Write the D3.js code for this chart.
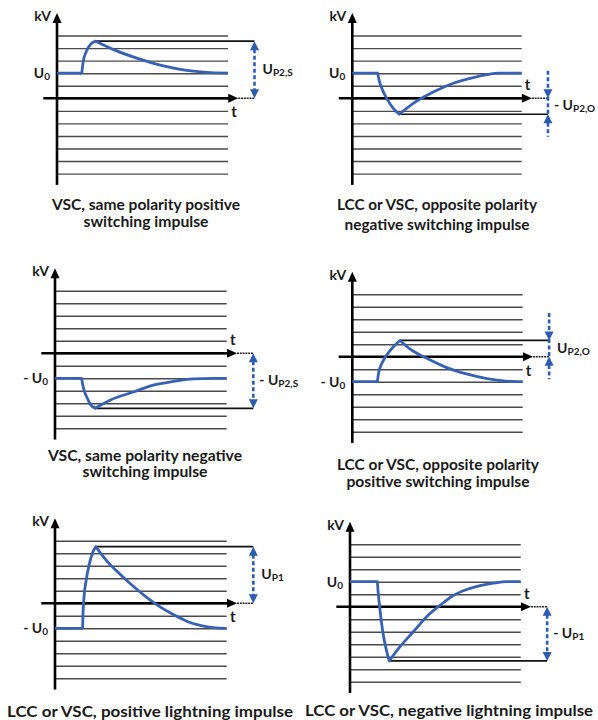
<!DOCTYPE html>
<html>
<head>
<meta charset="utf-8">
<script src="https://cdn.jsdelivr.net/npm/d3@7"></script>
<style>
  body { margin: 0; background: #fff; }
  text { font-family: Lato, "Open Sans", sans-serif; font-weight: 700; fill: #1a1a1a; }
</style>
</head>
<body>
<script>
// grid levels (kV steps), 0 is the t axis
var gridLevels = [5,4,3,2,1,0,-1,-2,-3,-4,-5,-6];

// steady state level U0 for each panel
var baseLevel = [2, 2, -2, -2, -2, 2];
var baseSign = ["", "", "- ", "- ", "- ", ""];

// impulse label for each panel
var peakSign = ["", "- ", "- ", "", "", "- "];
var peakSub = ["P2,S", "P2,O", "P2,S", "P2,O", "P1", "P1"];
var arrowInward = [false, true, false, true, false, false];

// curves: [t, level]
var curve1 = [[0,2],[1.45,2],[1.53,2.9],[1.72,3.75],[1.96,4.3],[2.26,4.55],[3.49,3.78],[4.85,3.12],[6.22,2.58],[7.58,2.22],[8.75,2.06],[10,2]];
var curve2 = [[0,2],[1.5,2],[1.58,1.46],[1.74,0.8],[2.03,0],[2.42,-0.8],[2.77,-1.27],[3.6,-0.4],[4.78,0.5],[5.96,1.2],[7.14,1.65],[7.93,1.88],[8.72,2],[10,2]];
var curve3 = [[0,-2],[1.55,-2],[1.65,-2.75],[1.85,-3.5],[2.08,-4.13],[2.33,-4.4],[3.2,-3.75],[4.56,-3.1],[5.72,-2.55],[6.89,-2.25],[8.05,-2.05],[9.22,-2],[10,-2]];
var curve4 = [[0,-2],[1.47,-2],[1.55,-1.27],[1.73,-0.55],[2.02,0.13],[2.41,0.8],[2.8,1.3],[3.4,0.6],[4.4,-0.15],[5.5,-0.85],[6.7,-1.38],[7.9,-1.75],[9.0,-1.95],[10,-2]];
var curve5 = [[0,-2],[1.61,-2],[1.63,-0.85],[1.69,0.5],[1.81,1.8],[2.0,3.15],[2.2,4.08],[2.37,4.53],[3.01,3.4],[3.79,2.33],[4.56,1.36],[5.34,0.47],[6.12,-0.29],[6.89,-0.9],[7.67,-1.43],[8.45,-1.77],[9.22,-1.94],[10,-2]];
var curve6 = [[0,2],[1.6,2],[1.66,1],[1.76,-0.3],[1.92,-2],[2.11,-3.35],[2.3,-4.34],[2.93,-3.2],[3.71,-2],[4.49,-0.8],[5.27,0.1],[6.05,0.9],[6.84,1.38],[7.62,1.68],[8.4,1.88],[9.18,2],[10,2]];
var curves = [curve1, curve2, curve3, curve4, curve5, curve6];

var captions = [
  ["VSC, same polarity positive", "switching impulse"],
  ["LCC or VSC, opposite polarity", "negative switching impulse"],
  ["VSC, same polarity negative", "switching impulse"],
  ["LCC or VSC, opposite polarity", "positive switching impulse"],
  ["LCC or VSC, positive lightning impulse"],
  ["LCC or VSC, negative lightning impulse"]
];

// layout
var width = 598, height = 720;
var px0 = [57, 352.3, 55, 352.3, 55, 350];
var px1 = [228, 521.7, 226.7, 522.7, 226.7, 520.7];
var py0 = [98.3, 98.3, 353.3, 356.7, 603.3, 606.7];
var pUnit = [12.55, 12.55, 12.5, 12.5, 12.5, 12.5];
var capX = [146, 437, 145, 438, 150, 449];
var capY = [[210,227],[210,230],[461,477],[470,487],[717],[716]];
var capW = [[188,125],[200,185],[194,125],[202,183],[286],[288]];
var arrowT = 11.55;

var blue = "#3762b4";
var blueArrow = "#2d5db1";

var svg = d3.select("body").append("svg").attr("width",width).attr("height",height);

function tri(g, x, y, dir, len, half, color){
  // dir: "up","down","right" -> tip at x,y
  var pts;
  if(dir=="up") pts = [[x,y],[x-half,y+len],[x+half,y+len]];
  else if(dir=="down") pts = [[x,y],[x-half,y-len],[x+half,y-len]];
  else pts = [[x,y],[x-len,y-half],[x-len,y+half]];
  g.append("path").attr("d","M"+pts.join("L")+"Z").attr("fill",color);
}

curves.forEach(function(pts,i){
  var g = svg.append("g").attr("class","panel"+i);
  var x = d3.scaleLinear().domain([0,10]).range([px0[i],px1[i]]);
  var y = d3.scaleLinear().domain([0,1]).range([py0[i],py0[i]-pUnit[i]]);

  // grid lines via axis
  var grid = g.append("g").attr("transform","translate("+px0[i]+",0)")
    .call(d3.axisRight(y).tickValues(gridLevels).tickSize(px1[i]-px0[i]).tickFormat(""));
  grid.select(".domain").remove();
  grid.selectAll(".tick line").attr("stroke","#4a4a4a").attr("stroke-width",1.4);

  // find peak (largest deviation from steady level)
  var b = baseLevel[i];
  var pk = 0;
  pts.forEach(function(d,j){ if(Math.abs(d[1]-b) > Math.abs(pts[pk][1]-b)) pk = j; });
  var peak = pts[pk];

  // black reference line at peak
  g.append("line")
    .attr("x1",x(peak[0])).attr("x2",x(arrowT))
    .attr("y1",y(peak[1])).attr("y2",y(peak[1]))
    .attr("stroke","#111").attr("stroke-width",1.7);

  // t axis
  g.append("line").attr("x1",x(-0.8)).attr("x2",x(10.6)-8)
    .attr("y1",y(0)).attr("y2",y(0)).attr("stroke","#000").attr("stroke-width",2.6);
  tri(g, x(10.6), y(0), "right", 10, 4.5, "#000");
  g.append("line").attr("x1",x(10.6)).attr("x2",x(arrowT))
    .attr("y1",y(0)).attr("y2",y(0)).attr("stroke","#222").attr("stroke-width",1.4).attr("stroke-dasharray","2,0.8");

  // kV axis
  g.append("line").attr("x1",x(0)).attr("x2",x(0))
    .attr("y1",y(-6.9)).attr("y2",y(6.8)+8).attr("stroke","#000").attr("stroke-width",2.6);
  tri(g, x(0), y(6.8), "up", 10, 4.5, "#000");

  // curve: flat part, front, tail
  var line = d3.line().x(function(d){return x(d[0]);}).y(function(d){return y(d[1]);});
  var dPath = line.curve(d3.curveLinear)(pts.slice(0,2))
    + line.curve(d3.curveMonotoneX)(pts.slice(1,pk+1)).replace(/^M[^C L]*/,"")
    + line.curve(d3.curveMonotoneX)(pts.slice(pk)).replace(/^M[^C L]*/,"");
  g.append("path").attr("d",dPath).attr("fill","none")
    .attr("stroke",blue).attr("stroke-width",2.8).attr("stroke-linejoin","round");

  // dashed double arrow
  var hi = Math.max(peak[1],0), lo = Math.min(peak[1],0);
  var ax = x(arrowT);
  if(!arrowInward[i]){
    g.append("line").attr("x1",ax).attr("x2",ax).attr("y1",y(hi)+8).attr("y2",y(lo)-8)
      .attr("stroke",blueArrow).attr("stroke-width",2.6).attr("stroke-dasharray","4,2.5");
    tri(g, ax, y(hi), "up", 9, 4.5, blueArrow);
    tri(g, ax, y(lo), "down", 9, 4.5, blueArrow);
  } else {
    g.append("line").attr("x1",ax).attr("x2",ax).attr("y1",y(hi+2.2)).attr("y2",y(lo-1.8))
      .attr("stroke",blueArrow).attr("stroke-width",2.6).attr("stroke-dasharray","4,2.5");
    tri(g, ax, y(hi), "down", 9, 4.5, blueArrow);
    tri(g, ax, y(lo), "up", 9, 4.5, blueArrow);
  }

  // impulse label
  var lt = g.append("text").attr("x",ax+ (peakSign[i] ? 6 : 8)).attr("y",(y(hi)+y(lo))/2+4)
    .style("font-size","14px");
  lt.append("tspan").text(peakSign[i]+"U");
  lt.append("tspan").attr("dy",2).style("font-size","10px").text(peakSub[i]);

  // kV label
  g.append("text").attr("x",x(0)-6).attr("y",y(6.8)+8).attr("text-anchor","end")
    .style("font-size","14px").text("kV");

  // U0 label
  var lu = g.append("text").attr("x",x(0)-7).attr("y",y(b)+5).attr("text-anchor","end")
    .style("font-size","14px");
  lu.append("tspan").text(baseSign[i]+"U");
  lu.append("tspan").attr("dy",2).style("font-size","10px").text("0");

  // t label, on the side away from the peak
  var below = peak[1] > 0;
  g.append("text").attr("x",x(10.35)).attr("y",below ? y(0)+19 : y(0)-8)
    .attr("text-anchor","middle").style("font-size","15px").text("t");

  // caption
  captions[i].forEach(function(s,k){
    g.append("text").attr("x",capX[i]).attr("y",capY[i][k]).attr("text-anchor","middle")
      .attr("textLength",capW[i][k]).attr("lengthAdjust","spacingAndGlyphs")
      .style("font-size","14.5px").text(s);
  });
});
</script>
</body>
</html>
